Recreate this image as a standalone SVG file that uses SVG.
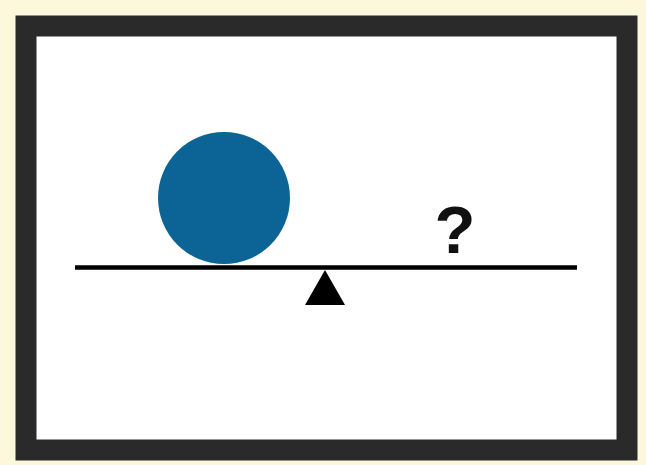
<svg xmlns="http://www.w3.org/2000/svg" width="646" height="465" viewBox="0 0 646 465">
<style>
.frame{fill:#ffffff;stroke:#2b2a2b;stroke-width:21}
.beam{stroke:#000;stroke-width:4.5}
.q{font-family:"Liberation Sans",Arial,sans-serif;font-weight:bold;font-size:67px;fill:#111}
</style>
<rect x="0" y="0" width="646" height="465" fill="#fdf8dc"/>
<rect class="frame" x="26" y="26" width="601" height="424"/>
<g id="ball"><circle cx="224" cy="198" r="66" fill="#0b6396"/></g>
<g id="beam"><line class="beam" x1="75" y1="267.5" x2="577" y2="267.5"/></g>
<g id="fulcrum"><polygon points="325,270 305,305 345,305" fill="#000"/></g>
<g id="question"><text class="q" x="455" y="253" text-anchor="middle">?</text></g>
</svg>
